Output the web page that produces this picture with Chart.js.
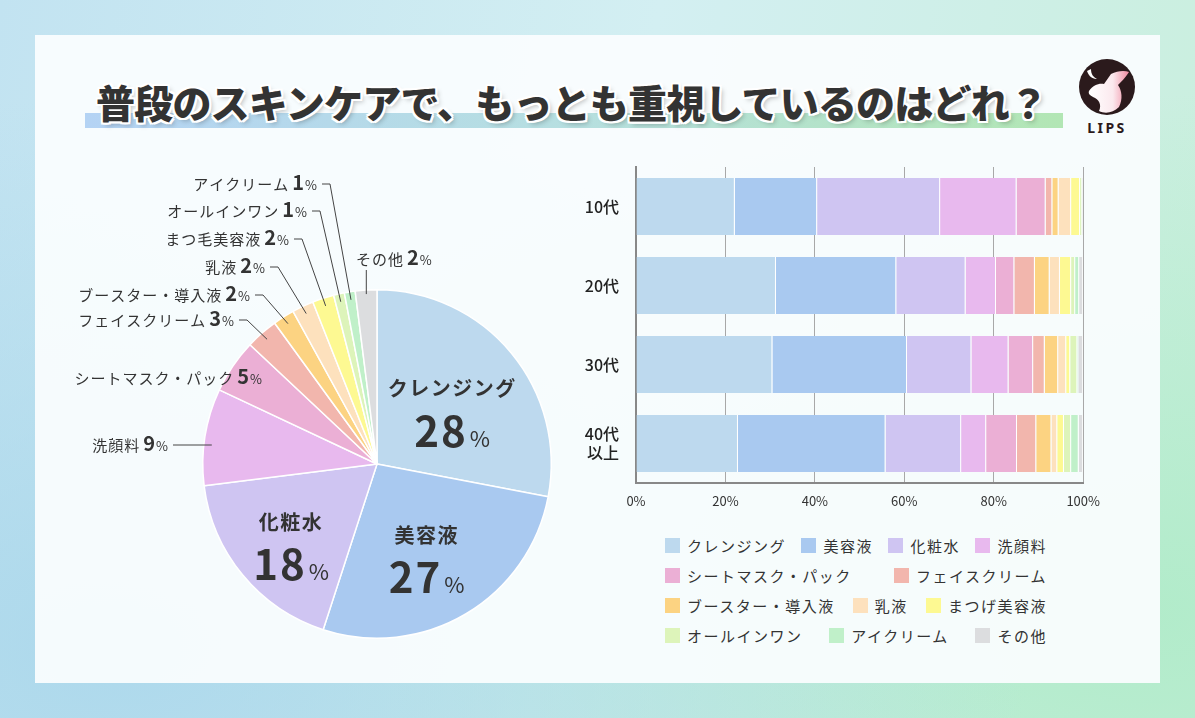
<!DOCTYPE html>
<html lang="ja">
<head>
<meta charset="utf-8">
<script src="https://cdn.jsdelivr.net/npm/chart.js"></script>
<style>
html, body { margin: 0; padding: 0; width: 1195px; height: 718px; overflow: hidden; }
body {
  font-family: "Noto Sans CJK JP", "Noto Sans", sans-serif;
  color: #333;
  position: relative;
  background:
    radial-gradient(ellipse at 10% 90%, rgba(170,215,235,0.9), rgba(170,215,235,0) 60%),
    radial-gradient(ellipse at 95% 85%, rgba(175,235,200,0.9), rgba(175,235,200,0) 60%),
    linear-gradient(100deg, #c2e3f1 0%, #d3eff2 50%, #c9efdc 100%);
}
#card { position: absolute; left: 35px; top: 35px; width: 1125px; height: 648px; background: rgba(250,253,254,0.94); }
#underline { position: absolute; left: 85px; top: 113px; width: 978px; height: 15px;
  background: linear-gradient(90deg, #b4d3f4 0%, #b6dfe0 50%, #b2e6b4 100%); }
#title { position: absolute; left: 96px; top: 80px; font-size: 39px; line-height: 42px; font-weight: 900; color: #333; white-space: nowrap; letter-spacing: -0.8px;
  text-shadow: 2px 0 #fff, -2px 0 #fff, 0 2px #fff, 0 -2px #fff, 2px 2px #fff, -2px -2px #fff, 2px -2px #fff, -2px 2px #fff, 3px 3px 5px rgba(0,0,0,0.25); }
#logo { position: absolute; left: 1077px; top: 57px; }
#pie { position: absolute; left: 40px; top: 150px; }
#bar { position: absolute; left: 570px; top: 150px; }
#legend { position: absolute; left: 665px; top: 530px; width: 382px; }
.lrow { display: flex; justify-content: space-between; align-items: center; height: 30px; }
.item { display: flex; align-items: center; font-size: 15px; letter-spacing: 1.5px; color: #333; white-space: nowrap; }
.sw { width: 15px; height: 15px; margin-right: 7px; }
</style>
</head>
<body>
<div id="card"></div>
<div id="underline"></div>
<div id="title">普段のスキンケアで、もっとも重視しているのはどれ？</div>
<svg id="logo" width="60" height="80" viewBox="0 0 60 80">
  <defs>
    <linearGradient id="deer" x1="0" y1="0" x2="1" y2="0">
      <stop offset="0" stop-color="#ffffff"/>
      <stop offset="0.6" stop-color="#fbe9ee"/>
      <stop offset="1" stop-color="#f08aa0"/>
    </linearGradient>
  </defs>
  <circle cx="30" cy="30" r="28" fill="#2b1a1c"/>
  <path d="M10,14 C12,20 16,22 20,22 C16,20 14,17 14,12 Z" fill="#fff"/>
  <path d="M12,34 C16,28 22,26 27,27 L34,17 C40,14 47,13 52,15 C48,21 44,25 41,28 C45,34 46,42 42,50 C36,56 28,57 22,54 C25,48 22,42 16,40 C13,38 11,37 12,34 Z" fill="url(#deer)"/>
  <text x="30" y="76" text-anchor="middle" font-family="Noto Sans, sans-serif" font-weight="700" font-size="14" letter-spacing="2.5" fill="#2b1a1c">LIPS</text>
</svg>
<canvas id="pie" width="540" height="520"></canvas>
<canvas id="bar" width="540" height="370"></canvas>
<div id="legend"></div>

<script>
// pie (overall)
const pieNames = ['クレンジング', '美容液', '化粧水', '洗顔料', 'シートマスク・パック', 'フェイスクリーム',
  'ブースター・導入液', '乳液', 'まつ毛美容液', 'オールインワン', 'アイクリーム', 'その他'];
const pieShares = [28, 27, 18, 9, 5, 3, 2, 2, 2, 1, 1, 2];

// stacked bars by age group (percent of each group)
const barNames = ['クレンジング', '美容液', '化粧水', '洗顔料', 'シートマスク・パック', 'フェイスクリーム',
  'ブースター・導入液', '乳液', 'まつげ美容液', 'オールインワン', 'アイクリーム', 'その他'];
const ageGroups = ['10代', '20代', '30代', ['40代', '以上']];
const teens    = [22.1, 18.4, 27.5, 17.1, 6.5, 1.5, 1.4, 2.8, 2.0, 0.5, 0.0, 0.2];
const twenties = [31.3, 26.9, 15.5, 6.8, 4.1, 4.6, 3.3, 2.3, 2.5, 0.9, 0.9, 0.9];
const thirties = [30.5, 30.1, 14.4, 8.3, 5.5, 2.6, 3.0, 1.8, 0.9, 1.6, 0.2, 1.1];
const forties  = [22.8, 33.0, 16.9, 5.6, 6.9, 4.3, 3.4, 1.3, 1.5, 1.6, 1.7, 1.0];
const xTicks = [0, 20, 40, 60, 80, 100];

const colors = ['#bdd9ee', '#a9c9f0', '#cfc5f2', '#e8b9ee', '#ebafd5', '#f2b6ad',
  '#fcd382', '#fde1bd', '#fdf992', '#ddf4ba', '#c0f0c9', '#dcdddf'];

const FONT = '"Noto Sans CJK JP", "Noto Sans", sans-serif';
Chart.defaults.font.family = FONT;
Chart.defaults.color = '#333';

// where the small-slice labels sit (page coords; pie canvas is at 40,150)
const OX = 40, OY = 150;
const outside = {
  3: { x: 168, y: 445, mode: 'flat' },
  4: { x: 262, y: 378, mode: 'none' },
  5: { x: 234, y: 320, mode: 'bend' },
  6: { x: 250, y: 295, mode: 'bend' },
  7: { x: 265, y: 267, mode: 'bend' },
  8: { x: 289, y: 239, mode: 'bend' },
  9: { x: 307, y: 211, mode: 'bend' },
  10: { x: 317, y: 184, mode: 'bend' },
  11: { x: 356, y: 259, mode: 'up' }
};
const innerRadius = [0.56, 0.56, 0.64];

function drawOutside(ctx, name, val, x, y, alignLeft) {
  ctx.textBaseline = 'alphabetic';
  ctx.font = '15px ' + FONT; ctx.letterSpacing = '1px';
  const wn = ctx.measureText(name).width;
  ctx.font = 'bold 20px ' + FONT; ctx.letterSpacing = '0px';
  const wv = ctx.measureText(String(val)).width;
  ctx.font = '13px ' + FONT;
  const wp = ctx.measureText('%').width;
  const total = wn + 3 + wv + 1 + wp;
  let sx = alignLeft ? x : x - total;
  const base = y + 6;
  ctx.fillStyle = '#333';
  ctx.textAlign = 'left';
  ctx.font = '15px ' + FONT; ctx.letterSpacing = '1px';
  ctx.fillText(name, sx, base);
  sx += wn + 3;
  ctx.font = 'bold 20px ' + FONT; ctx.letterSpacing = '0px';
  ctx.fillText(String(val), sx, base);
  sx += wv + 1;
  ctx.font = '13px ' + FONT;
  ctx.fillText('%', sx, base);
}

const pieLabels = {
  id: 'pieLabels',
  afterDatasetsDraw(chart) {
    const ctx = chart.ctx;
    const arcs = chart.getDatasetMeta(0).data;
    ctx.save();
    arcs.forEach((arc, i) => {
      const mid = (arc.startAngle + arc.endAngle) / 2;
      const R = arc.outerRadius;
      if (i < 3) {
        const px = arc.x + Math.cos(mid) * R * innerRadius[i];
        const py = arc.y + Math.sin(mid) * R * innerRadius[i];
        ctx.fillStyle = '#333';
        ctx.textAlign = 'center';
        ctx.textBaseline = 'middle';
        ctx.font = 'bold 20px ' + FONT; ctx.letterSpacing = '1.5px';
        ctx.fillText(pieNames[i], px, py - 13);
        ctx.font = 'bold 42px ' + FONT; ctx.letterSpacing = '2px';
        const wn = ctx.measureText(String(pieShares[i])).width;
        ctx.letterSpacing = '0px';
        ctx.font = '22px ' + FONT;
        const wp = ctx.measureText('%').width;
        const sx = px - (wn + 2 + wp) / 2;
        ctx.textAlign = 'left';
        ctx.textBaseline = 'alphabetic';
        ctx.font = 'bold 42px ' + FONT; ctx.letterSpacing = '2px';
        ctx.fillText(String(pieShares[i]), sx, py + 45);
        ctx.letterSpacing = '0px';
        ctx.font = '22px ' + FONT;
        ctx.fillText('%', sx + wn + 2, py + 45);
        return;
      }
      const spot = outside[i];
      if (!spot) return;
      const lx = spot.x - OX, ly = spot.y - OY;
      ctx.strokeStyle = '#444';
      ctx.lineWidth = 1;
      ctx.beginPath();
      if (spot.mode === 'bend') {
        const tx = arc.x + Math.cos(mid) * (R - 8);
        const ty = arc.y + Math.sin(mid) * (R - 8);
        ctx.moveTo(lx + 5, ly); ctx.lineTo(lx + 13, ly); ctx.lineTo(tx, ty);
      } else if (spot.mode === 'flat') {
        const dy = ly - arc.y;
        const ex = arc.x - Math.sqrt(R * R - dy * dy) + 8;
        ctx.moveTo(lx + 5, ly); ctx.lineTo(ex, ly);
      } else if (spot.mode === 'up') {
        const tx = arc.x + Math.cos(mid) * (R - 4);
        const ty = arc.y + Math.sin(mid) * (R - 4);
        ctx.moveTo(tx, ly + 11); ctx.lineTo(tx, ty);
      }
      ctx.stroke();
      drawOutside(ctx, pieNames[i], pieShares[i], lx, ly, spot.mode === 'up');
    });
    ctx.restore();
  }
};

new Chart(document.getElementById('pie'), {
  type: 'pie',
  data: {
    labels: pieNames,
    datasets: [{ data: pieShares, backgroundColor: colors, borderColor: '#fff', borderWidth: 1.5 }]
  },
  options: {
    responsive: false,
    animation: false,
    devicePixelRatio: 1,
    layout: { padding: { left: 162, right: 28, top: 139, bottom: 31 } },
    plugins: { legend: { display: false }, tooltip: { enabled: false } }
  },
  plugins: [pieLabels]
});

// bars
const ageRows = [teens, twenties, thirties, forties];
const barSets = barNames.map((name, i) => ({
  label: name,
  data: ageRows.map(r => r[i]),
  backgroundColor: colors[i],
  borderColor: '#fff',
  borderWidth: { top: 0, bottom: 0, left: 0, right: 1 },
  borderSkipped: false,
  barPercentage: 0.8,
  categoryPercentage: 0.9
}));

new Chart(document.getElementById('bar'), {
  type: 'bar',
  data: { labels: ageGroups, datasets: barSets },
  options: {
    indexAxis: 'y',
    responsive: false,
    animation: false,
    devicePixelRatio: 1,
    layout: { padding: { top: 17, right: 22, left: 0, bottom: 0 } },
    plugins: { legend: { display: false }, tooltip: { enabled: false } },
    scales: {
      x: {
        stacked: true, min: 0, max: 100,
        afterBuildTicks: s => { s.ticks = xTicks.map(v => ({ value: v })); },
        afterFit: s => { s.height = 37; },
        ticks: { callback: v => v + '%', font: { size: 13 }, color: '#333', padding: 10 },
        grid: { color: '#a8a8a8', lineWidth: 1, drawTicks: false },
        border: { display: true, color: '#888', width: 2 }
      },
      y: {
        stacked: true,
        afterFit: s => { s.width = 66; s.paddingTop = 0; s.paddingBottom = 0; },
        ticks: { font: { size: 16, weight: '500' }, color: '#222', padding: 9 },
        grid: { display: false },
        border: { display: true, color: '#888', width: 2 }
      }
    }
  }
});

// legend
const legendRows = [4, 2, 3, 3];
const legendBox = document.getElementById('legend');
let k = 0;
legendRows.forEach(n => {
  const row = document.createElement('div');
  row.className = 'lrow';
  for (let j = 0; j < n; j++, k++) {
    const item = document.createElement('div');
    item.className = 'item';
    item.innerHTML = '<span class="sw" style="background:' + colors[k] + '"></span>' + barNames[k];
    row.appendChild(item);
  }
  legendBox.appendChild(row);
});
</script>
</body>
</html>
